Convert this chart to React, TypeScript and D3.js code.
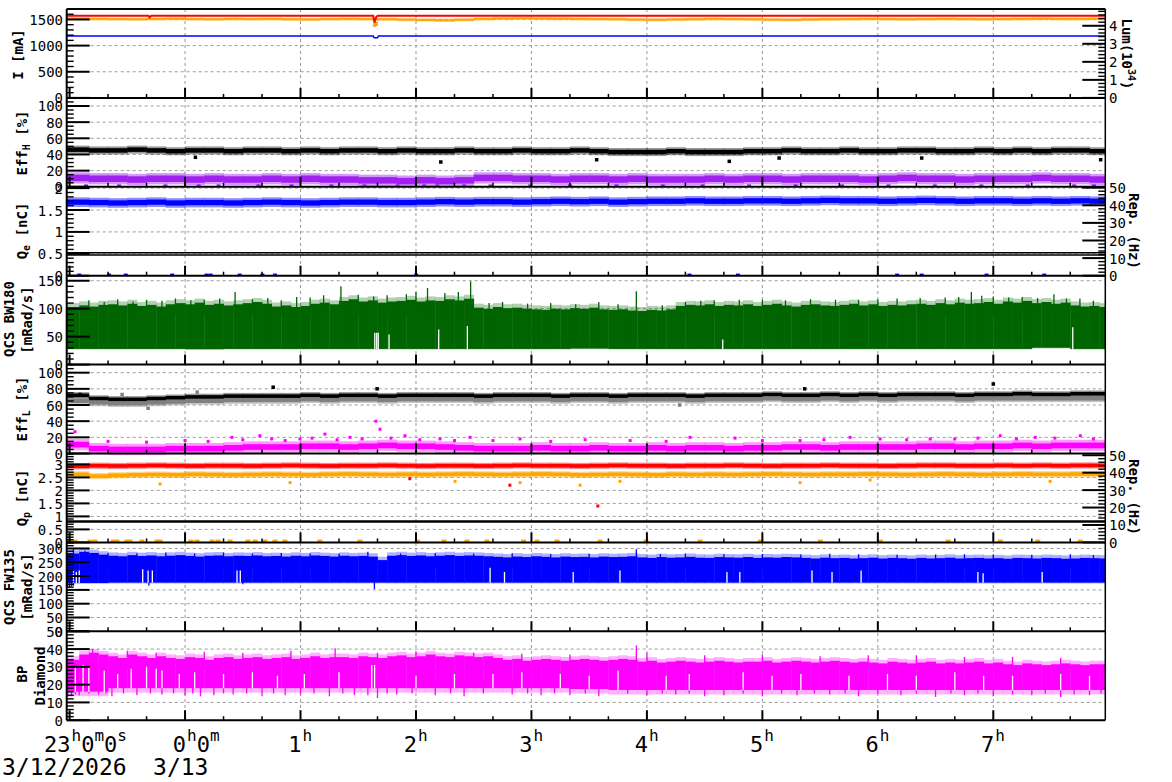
import React from "react";
import * as d3 from "d3";

// ---------------- time axis (minutes relative to 0:00 on 3/13) ----------------
const timeDomain: [number, number] = [-61.5, 478.2];
const hourTicks = [-60, 0, 60, 120, 180, 240, 300, 360, 420];
const hourLabels = ["23h0m0s", "0h0m", "1h", "2h", "3h", "4h", "5h", "6h", "7h"];
const minorTimeStep = 20;
const dateLabels = ["3/12/2026", "3/13"];
const binStart = -60;
const binSpan = 540;

// ---------------- tick labels ----------------
const iTicks = [0, 500, 1000, 1500];
const lumTicks = [0, 1, 2, 3, 4];
const effTicks = [0, 20, 40, 60, 80, 100];
const qeTicks = [0, 0.5, 1, 1.5, 2];
const repTicks = [0, 10, 20, 30, 40, 50];
const bwTicks = [0, 50, 100, 150];
const qpTicks = [0, 0.5, 1, 1.5, 2, 2.5, 3];
const fwTicks = [0, 50, 100, 150, 200, 250, 300];
const bpTicks = [0, 10, 20, 30, 40, 50];

// ---------------- panel 1: currents [mA] and luminosity ----------------
const herCurrent: [number, number][] = [[-61.5, 1182], [97.8, 1182], [98.3, 1150], [100, 1150], [100.5, 1182], [478.2, 1182]];
const lerCurrent: [number, number][] = [[-61.5, 1570], [-19, 1570], [-18.4, 1540], [-17.6, 1570], [97.8, 1570], [98.4, 1440], [99.4, 1555], [100.2, 1570], [478.2, 1570]];
const lumMean = [4.40, 4.38, 4.37, 4.36, 4.38, 4.39, 4.37, 4.36, 4.38, 4.37, 4.38, 4.36, 4.35, 4.37, 4.38, 4.37, 4.36, 4.34, 4.32, 4.30, 4.33, 4.38, 4.40, 4.41, 4.40, 4.39, 4.38, 4.37, 4.36, 4.34, 4.33, 4.35, 4.36, 4.38, 4.37, 4.36, 4.34, 4.33, 4.35, 4.36, 4.37, 4.38, 4.37, 4.36, 4.37, 4.38, 4.37, 4.36, 4.37, 4.38, 4.39, 4.38, 4.38, 4.39];
const lumOutliers: [number, number][] = [[98.5, 4.05], [99.5, 4.1]];

// ---------------- panel 2: Eff_H [%] ----------------
const effHBlack = [46, 45, 45, 46, 45, 44, 45, 45, 44, 45, 45, 44, 45, 44, 45, 45, 44, 45, 44, 44, 45, 44, 44, 45, 44, 44, 45, 44, 43, 43, 43, 44, 43, 43, 43, 44, 44, 45, 44, 44, 45, 44, 44, 45, 45, 44, 44, 45, 44, 45, 44, 45, 45, 44];
const effHPurple = [11, 10, 10, 9, 10, 10, 9, 10, 9, 9, 10, 9, 10, 9, 9, 8, 8, 7, 8, 7, 8, 11, 11, 10, 10, 9, 10, 10, 9, 10, 9, 9, 9, 10, 9, 10, 10, 9, 10, 10, 10, 9, 10, 11, 10, 10, 9, 10, 10, 10, 11, 10, 10, 9];
const effHBlackOutliers: [number, number][] = [[5.4, 36.5], [132.9, 30.7], [213.9, 33.5], [282.8, 31.5], [308.7, 35.6], [382.8, 35.6], [475.8, 33.5]];
const effHPurpleLow: number[] = [-51.5, -34.3, -10.2, 7.1, 17.4, 38.1, 55.3, 76, 93.2, 110.5, 124.3, 131.1, 145, 158.7, 179.4, 200.1, 224.2, 248.3, 269, 293.1, 317.3, 341.4, 365.5, 389.6, 413.8, 437.9, 462, 472.3];

// ---------------- panel 3: Q_e [nC] and rep rate ----------------
const qeBlue = [1.68, 1.67, 1.66, 1.67, 1.68, 1.66, 1.67, 1.67, 1.66, 1.67, 1.68, 1.67, 1.66, 1.67, 1.68, 1.68, 1.67, 1.67, 1.68, 1.69, 1.68, 1.69, 1.69, 1.68, 1.69, 1.70, 1.69, 1.70, 1.68, 1.69, 1.70, 1.70, 1.71, 1.70, 1.70, 1.71, 1.71, 1.70, 1.71, 1.72, 1.71, 1.71, 1.70, 1.71, 1.72, 1.71, 1.70, 1.71, 1.71, 1.70, 1.71, 1.70, 1.71, 1.70];
const qeZeroDots: number[] = [-55, -39.5, -30.8, -6.7, 11.2, 13.3, 28.4, 40.2, 46.7, 120.1, 262.1, 287.3, 370, 382.8, 416.5, 446.5];
const repE1: [number, number][] = [[-61.5, 13.0], [478.2, 13.0]];
const repE2: [number, number][] = [[-61.5, 11.8], [478.2, 11.8]];

// ---------------- panel 4: QCS BW180 [mRad/s] ----------------
const bw180Hi = [103, 106, 104, 107, 108, 106, 109, 105, 107, 104, 108, 110, 108, 111, 107, 109, 106, 108, 110, 112, 109, 104, 106, 103, 105, 109, 111, 108, 114, 117, 113, 115, 111, 113, 114, 116, 113, 115, 114, 117, 115, 118, 102, 100, 103, 101, 102, 100, 99, 98, 100, 99, 101, 100, 102, 99, 98, 99, 97, 96, 98, 97, 99, 105, 107, 106, 108, 105, 107, 106, 108, 105, 107, 109, 106, 104, 107, 108, 106, 105, 107, 109, 106, 108, 105, 107, 106, 108, 109, 107, 110, 108, 111, 109, 110, 112, 109, 113, 111, 114, 110, 112, 109, 111, 106, 104, 105, 103];
const bw180Lo = [28, 28, 28, 27.5, 28, 28, 28, 28, 28, 28, 28, 28, 28, 28.5, 28, 28, 28, 28, 28, 28, 28, 28, 28, 28, 28, 30, 28];
const bw180Spikes: [number, number][] = [[-50, 115], [-42, 112], [-35, 117], [-27, 113], [-20, 116], [-12, 114], [-5, 118], [3, 115], [10, 116], [18, 118], [26, 130], [35, 117], [43, 119], [50, 115], [58, 121], [65, 120], [72, 124], [81, 140], [90, 125], [98, 122], [105, 124], [115, 126], [120, 130], [126, 137], [135, 128], [142, 130], [148.4, 149], [158, 110], [165, 112], [178, 109], [190, 110], [203, 108], [215, 112], [225, 108], [234.5, 131], [248, 106], [260, 112], [268, 114], [275, 115], [288, 116], [300, 116], [312, 115], [325, 117], [338, 116], [350, 116], [360, 117], [370, 118], [382, 119], [395, 120], [402, 121], [408.6, 130], [414, 123], [420, 122], [428, 120], [435, 121], [443, 119], [451.5, 126], [458, 118], [465, 118], [472, 114]];
const bw180Gaps: [number, number][] = [[98.6, 57], [99.6, 57], [100.4, 57], [106, 54], [131.8, 63], [146.7, 69], [279.4, 45], [461.3, 67]];

// ---------------- panel 5: Eff_L [%] ----------------
const effLBlack = [72, 68, 67, 67, 68, 69, 70, 70, 71, 71, 71, 71, 72, 71, 72, 72, 71, 72, 72, 72, 72, 71, 72, 72, 72, 71, 72, 72, 71, 72, 72, 72, 71, 72, 72, 72, 73, 72, 72, 73, 72, 73, 72, 73, 73, 73, 72, 73, 73, 74, 73, 73, 74, 74];
const effLGray = [65, 63, 62, 62, 63, 64, 65, 65, 66, 66, 66, 66, 67, 66, 67, 67, 66, 67, 67, 67, 67, 66, 67, 67, 67, 66, 67, 67, 66, 67, 67, 67, 66, 67, 67, 67, 68, 67, 67, 68, 67, 68, 67, 68, 68, 68, 67, 68, 68, 68, 68, 68, 68, 68];
const effLMagenta = [11, 6, 5, 5, 5, 6, 6, 6, 7, 8, 8, 8, 9, 9, 8, 9, 10, 9, 9, 8, 7, 6, 6, 6, 7, 6, 6, 7, 6, 6, 7, 6, 7, 7, 6, 7, 7, 8, 8, 7, 8, 8, 8, 8, 9, 9, 8, 9, 9, 10, 9, 10, 10, 10];
const effLBlackOutliers: [number, number][] = [[-54.6, 73], [45.8, 82], [99.8, 80], [322, 80], [420, 86]];
const effLGrayOutliers: [number, number][] = [[-32.7, 73], [-19.2, 56], [6.3, 76], [257, 60]];
const effLMagentaOutliers: [number, number][] = [[-57.2, 27], [-40, 15], [-20, 14], [0, 16], [12, 15], [24.4, 20], [30, 17], [38.9, 22], [45, 18], [52, 16], [59.7, 18], [66, 19], [72.7, 24], [79, 17], [85.7, 20], [92, 18], [99.2, 40], [101.3, 30], [107, 19], [114.3, 22], [122, 17], [132.5, 18], [140, 16], [148.1, 20], [160, 16], [174.1, 18], [190, 15], [207.9, 17], [231.3, 16], [250, 15], [262.4, 20], [285.8, 19], [300, 16], [319.6, 16], [332, 17], [345.6, 20], [361.2, 18], [375, 17], [387.2, 18], [400, 18], [412, 19], [423.6, 22], [432, 18], [441.8, 20], [452, 19], [465.2, 22], [472, 18]];

// ---------------- panel 6: Q_p [nC] and rep rate ----------------
const qpRed = [2.93, 2.95, 2.94, 2.95, 2.96, 2.95, 2.94, 2.95, 2.95, 2.94, 2.95, 2.96, 2.95, 2.94, 2.95, 2.95, 2.96, 2.95, 2.94, 2.95, 2.95, 2.94, 2.95, 2.96, 2.95, 2.95, 2.94, 2.95, 2.96, 2.95, 2.95, 2.94, 2.95, 2.95, 2.96, 2.95, 2.94, 2.95, 2.95, 2.96, 2.95, 2.95, 2.94, 2.95, 2.96, 2.96, 2.95, 2.95, 2.96, 2.95, 2.96, 2.95, 2.96, 2.96];
const qpOrange = [2.62, 2.55, 2.58, 2.60, 2.61, 2.60, 2.62, 2.61, 2.60, 2.61, 2.62, 2.61, 2.60, 2.62, 2.63, 2.62, 2.61, 2.62, 2.61, 2.62, 2.63, 2.62, 2.61, 2.62, 2.63, 2.62, 2.60, 2.61, 2.62, 2.61, 2.60, 2.62, 2.61, 2.62, 2.61, 2.62, 2.63, 2.62, 2.61, 2.62, 2.62, 2.63, 2.62, 2.61, 2.62, 2.63, 2.62, 2.61, 2.62, 2.63, 2.62, 2.62, 2.63, 2.63];
const qpRedOutliers: [number, number][] = [[116.8, 2.45], [168.8, 2.2], [214.5, 1.4]];
const qpOrangeOutliers: [number, number][] = [[-13, 2.25], [54.6, 2.3], [140.3, 2.35], [174.1, 2.3], [205.3, 2.2], [226, 2.35], [319.6, 2.3], [356, 2.4], [449.5, 2.35]];
const qpZeroDots: number[] = [-59.8, -57.2, -49.4, -46.8, -37.4, -35.4, -30.2, -28.6, -22.4, -14.6, -13, 3.1, 6.2, 14, 17.1, 23.4, 32.7, 36.4, 41.5, 46.7, 51.9, 70.1, 90.9, 120.8, 134.6, 146.5, 156.9, 175.9, 182.9, 193.3, 215.7, 239.6, 267.7, 298.9, 330.1, 361.3, 396.6, 423.6, 443.1, 465.2];
const repP: [number, number][] = [[-61.5, 12], [478.2, 12]];

// ---------------- panel 7: QCS FW135 [mRad/s] ----------------
const fw135Hi = [282, 288, 284, 278, 274, 272, 276, 273, 275, 272, 274, 276, 273, 271, 274, 275, 272, 274, 273, 275, 272, 273, 271, 274, 272, 275, 273, 271, 274, 272, 273, 271, 258, 274, 276, 273, 275, 272, 274, 276, 273, 275, 274, 272, 270, 268, 271, 269, 272, 270, 268, 271, 269, 270, 268, 271, 269, 270, 272, 268, 266, 269, 267, 268, 270, 267, 266, 269, 268, 267, 269, 266, 268, 267, 269, 268, 266, 264, 267, 265, 266, 264, 265, 267, 264, 266, 265, 263, 266, 264, 265, 267, 264, 265, 266, 264, 265, 263, 266, 265, 264, 266, 265, 263, 264, 266, 265, 264];
const fw135Lo = [175, 176, 176, 176, 176, 176, 176, 176, 176, 176, 176, 176, 176, 176, 176, 176, 176, 176, 176, 176, 176, 176, 176, 176, 176, 176, 176];
const fw135Spikes: [number, number][] = [[-58, 298], [-52, 292], [-40, 284], [-25, 283], [-10, 285], [5, 282], [20, 285], [35, 281], [50, 284], [65, 282], [80, 281], [95, 288], [112, 282], [130, 284], [150, 281], [170, 283], [190, 280], [210, 281], [234.5, 297], [247, 280], [260, 282], [280, 279], [300, 280], [320, 278], [335, 281], [350, 279], [370, 277], [390, 278], [405, 279], [420, 278], [440, 277], [460, 279], [472, 276]];
const fw135Dips: [number, number][] = [[-61, 160], [-60, 158], [-59, 162], [-58, 165], [-18.8, 165], [30, 170], [98.4, 153]];
const fw135Gaps: [number, number][] = [[-58, 220], [-56.5, 215], [-55, 220], [-22, 225], [-19.2, 220], [-17, 220], [27, 220], [28.7, 220], [158.5, 230], [166, 215], [201.7, 215], [226, 220], [281.6, 215], [288.3, 215], [325.8, 220], [336.2, 215], [351.3, 220], [412, 215], [414.7, 210], [445.4, 215]];

// ---------------- panel 8: BP Diamond ----------------
const bpHi = [34, 37, 38, 37, 36, 35, 37, 36, 35, 36, 35, 34.5, 35.5, 35, 34, 35, 35.5, 34.5, 35, 35.5, 34.5, 35, 35.5, 34.5, 35, 36, 35, 35.5, 35.5, 35, 36, 35.5, 35, 36, 36.5, 35.5, 36, 37, 36, 35.5, 36.5, 36, 35.5, 36, 35, 34, 34.5, 33.5, 34, 34.5, 34, 33.5, 34, 34.5, 34, 33.5, 34, 34.5, 34, 33, 33.5, 32.5, 33, 33.5, 33, 32.5, 33, 33.5, 33, 32.5, 33, 33, 33.5, 32.5, 33, 33.5, 33, 32.5, 33, 33.5, 33, 32.5, 33, 32.5, 32, 33, 32.5, 32, 32.5, 33, 32, 32.5, 32, 32.5, 33, 32, 32.5, 31.5, 31, 32, 31.5, 31, 31.5, 32, 31.5, 31, 31.5, 31.5];
const bpLo = [16, 18, 18, 18, 18, 18, 18, 18, 18, 18, 18, 18, 18, 17.5, 17, 17, 17, 17, 17, 17, 17, 17, 17, 17, 17, 17, 17];
const bpSpikes: [number, number][] = [[-48, 40], [-30, 39], [-15, 38], [10, 38.5], [30, 38], [55, 39], [78, 40.5], [100, 38], [120, 38.5], [150, 38], [175, 37.5], [200, 37], [234.5, 42], [240, 38], [270, 36.5], [300, 37], [330, 36], [355, 36.5], [380, 36.5], [405, 35.5], [430, 35.5], [455, 35]];
const bpDips: [number, number][] = [[-61, 13], [-59, 13.5], [-57, 14.5], [-55, 14], [-50, 15], [-45, 14.5], [-41, 15], [-38, 13.5], [-32, 15], [-25, 14], [-18, 15], [-12, 14.5], [-6, 15], [0, 14], [4, 15], [8, 13.5], [15, 14], [20, 15], [25, 14.5], [32, 15], [40, 13.5], [46, 15], [52, 14], [60, 14.5], [67, 15], [75, 13.5], [82, 15], [88, 14], [95, 14], [100, 12.5], [105, 15], [110, 14.5], [118, 15], [130, 14], [138, 15], [145, 13.5], [155, 15], [170, 14.5], [178, 15], [185, 14], [192, 15], [200, 14], [208, 15], [215, 13.5], [230, 15], [240, 14], [248, 15], [255, 14.5], [262, 15], [270, 13.5], [280, 14], [290, 15], [300, 13.5], [310, 15], [318, 14], [327, 15], [335, 14.5], [343, 15], [350, 13.5], [360, 15], [372, 14], [380, 15], [390, 13], [398, 15], [405, 14], [412, 15], [420, 13.5], [430, 14.5], [440, 14], [447, 15], [455, 13], [462, 14.5], [470, 14], [476, 15]];
const bpGaps: [number, number][] = [[-57, 30], [-53, 31], [-50, 30], [-42, 28], [-35, 26], [-28, 29], [-20, 30], [-15, 29], [-12, 28], [-3, 26], [5, 27], [20, 26], [35, 27], [48, 25], [62, 26], [80, 27], [97, 31], [98.5, 31], [120, 25], [140, 26], [160, 26], [175, 27], [195, 26], [210, 25], [225, 28], [250, 25], [262, 26], [290, 27], [305, 25], [320, 26], [345, 25], [365, 26], [380, 25], [400, 27], [415, 25], [430, 25], [455, 26], [470, 25]];

// ---------------- layout ----------------
const X0 = 66.7, X1 = 1105.3, TOP = 9, PH = 88.9;
const MONO = "'DejaVu Sans Mono', monospace";
const GRID = "#9a9a9a";

const xS = d3.scaleLinear().domain(timeDomain).range([X0, X1]);
const pTop = (i: number) => TOP + i * PH;
const yOf = (i: number, dom: number[]) => d3.scaleLinear().domain(dom).range([pTop(i) + PH, pTop(i)]);

type Axis = { dom: number[]; labels: number[]; minor: number };
type Panel = Axis & { right?: Axis };

const PANELS: Panel[] = [
  { dom: [0, 1700], labels: iTicks, minor: 100, right: { dom: [0, 4.93], labels: lumTicks, minor: 0.2 } },
  { dom: [0, 110], labels: effTicks, minor: 5 },
  { dom: [0, 2.03], labels: qeTicks, minor: 0.1, right: { dom: [0, 50.5], labels: repTicks, minor: 2 } },
  { dom: [0, 159], labels: bwTicks, minor: 10 },
  { dom: [0, 110], labels: effTicks, minor: 5 },
  { dom: [0, 3.42], labels: qpTicks, minor: 0.1, right: { dom: [0, 51], labels: repTicks, minor: 2 } },
  { dom: [0, 322], labels: fwTicks, minor: 10 },
  { dom: [0, 50], labels: bpTicks, minor: 2 },
];

function binRange(n: number, i: number): [number, number] {
  const w = binSpan / n;
  let a = binStart + i * w;
  let b = a + w;
  if (i === 0) a = timeDomain[0];
  b = Math.min(b, timeDomain[1]);
  return [a, b];
}
function binIdx(n: number, t: number) {
  return Math.max(0, Math.min(n - 1, Math.floor((t - binStart) / (binSpan / n))));
}

function band(key: string, vals: number[], spread: number, y: d3.ScaleLinear<number, number>, color: string, opacity = 1) {
  return vals.map((v, i) => {
    const [a, b] = binRange(vals.length, i);
    const y1 = y(v + spread), y2 = y(v - spread);
    return <rect key={key + i} x={xS(a)} width={xS(b) - xS(a) + 0.4} y={y1} height={y2 - y1} fill={color} opacity={opacity} />;
  });
}

function rangeBars(key: string, hi: number[], lo: number[], y: d3.ScaleLinear<number, number>, color: string, fuzzTop = 0, fuzzBot = 0) {
  return hi.map((h, i) => {
    const [a, b] = binRange(hi.length, i);
    const l = lo[Math.floor((i * lo.length) / hi.length)];
    const xa = xS(a), w = xS(b) - xS(a) + 0.4;
    return (
      <g key={key + i}>
        {fuzzTop > 0 && <rect x={xa} width={w} y={y(h + fuzzTop)} height={y(h) - y(h + fuzzTop)} fill={color} opacity={0.3} />}
        {fuzzBot > 0 && <rect x={xa} width={w} y={y(l)} height={y(l - fuzzBot) - y(l)} fill={color} opacity={0.3} />}
        <rect x={xa} width={w} y={y(h)} height={y(l) - y(h)} fill={color} />
      </g>
    );
  });
}

function vlines(key: string, pts: [number, number][], base: (t: number) => number, y: d3.ScaleLinear<number, number>, color: string, w = 1.2) {
  return pts.map(([t, v], i) => (
    <line key={key + i} x1={xS(t)} x2={xS(t)} y1={y(base(t))} y2={y(v)} stroke={color} strokeWidth={w} />
  ));
}

function dots(key: string, pts: [number, number][], y: d3.ScaleLinear<number, number>, color: string, w = 3.5, h = 3.5) {
  return pts.map(([t, v], i) => <rect key={key + i} x={xS(t) - w / 2} y={y(v) - h / 2} width={w} height={h} fill={color} />);
}

function linePath(pts: [number, number][], y: d3.ScaleLinear<number, number>) {
  return d3.line<[number, number]>().x((d) => xS(d[0])).y((d) => y(d[1]))(pts) || "";
}

function leftTitle(key: string, cx: number, cy: number, content: React.ReactNode, rot = -90) {
  return (
    <text key={key} transform={`translate(${cx},${cy}) rotate(${rot})`} textAnchor="middle" dominantBaseline="central" fontFamily={MONO} fontWeight="bold" fontSize={14}>
      {content}
    </text>
  );
}

function axisTicks(key: string, ax: Axis, i: number, side: "left" | "right") {
  const y = yOf(i, ax.dom);
  const out: React.ReactNode[] = [];
  const sgn = side === "left" ? 1 : -1;
  const x0 = side === "left" ? X0 : X1;
  const minors = d3.range(0, ax.dom[1] + 1e-9, ax.minor).filter((v) => !ax.labels.some((l) => Math.abs(l - v) < ax.minor * 0.05));
  minors.forEach((v, k) => out.push(<line key={key + "m" + k} x1={x0} x2={x0 + sgn * 7} y1={y(v)} y2={y(v)} stroke="#000" strokeWidth={1.4} />));
  ax.labels.forEach((v, k) => {
    out.push(<line key={key + "M" + k} x1={x0} x2={x0 + sgn * 23} y1={y(v)} y2={y(v)} stroke="#000" strokeWidth={2} />);
    out.push(
      <text key={key + "t" + k} x={side === "left" ? 63 : 1109} y={y(v) + 0.5} textAnchor={side === "left" ? "end" : "start"} dominantBaseline="central" fontFamily={MONO} fontSize={14} fill="#000">
        {String(v)}
      </text>
    );
  });
  return out;
}

export default function App() {
  const y = PANELS.map((p, i) => yOf(i, p.dom));
  const yR = PANELS.map((p, i) => (p.right ? yOf(i, p.right.dom) : null));
  const bottom = pTop(8);

  // grids
  const grid: React.ReactNode[] = [];
  PANELS.forEach((p, i) => {
    p.labels.forEach((v, k) => {
      const yy = y[i](v);
      if (v > 0 && yy > pTop(i) + 1) grid.push(<line key={`g${i}-${k}`} x1={X0} x2={X1} y1={yy} y2={yy} stroke={GRID} strokeWidth={1} strokeDasharray="3,3" />);
    });
  });
  hourTicks.filter((t) => t >= 0).forEach((t, k) => grid.push(<line key={`vg${k}`} x1={xS(t)} x2={xS(t)} y1={TOP} y2={bottom} stroke={GRID} strokeWidth={1} strokeDasharray="3,3" />));

  // series
  const s: React.ReactNode[] = [];
  // panel 1
  s.push(...band("lumF", lumMean, 0.09, yR[0]!, "#ffa500", 0.45));
  s.push(...band("lum", lumMean, 0.05, yR[0]!, "#ffa500"));
  s.push(...dots("lumO", lumOutliers, yR[0]!, "#ffa500", 3, 4));
  s.push(<path key="ler" d={linePath(lerCurrent, y[0])} fill="none" stroke="#ff0000" strokeWidth={2} />);
  s.push(<path key="her" d={linePath(herCurrent, y[0])} fill="none" stroke="#0000ff" strokeWidth={1.5} />);
  // panel 2
  s.push(...band("ehbF", effHBlack, 5, y[1], "#000", 0.4));
  s.push(...band("ehb", effHBlack, 2.8, y[1], "#000"));
  s.push(...dots("ehbO", effHBlackOutliers, y[1], "#000"));
  s.push(...band("ehpF", effHPurple, 7, y[1], "#a020f0", 0.45));
  s.push(...band("ehp", effHPurple, 4, y[1], "#a020f0"));
  s.push(...dots("ehpL", effHPurpleLow.map((t) => [t, 1.5] as [number, number]), y[1], "#a020f0", 4, 2.5));
  // panel 3
  s.push(...band("qeF", qeBlue, 0.11, y[2], "#0000ff", 0.45));
  s.push(...band("qe", qeBlue, 0.06, y[2], "#0000ff"));
  s.push(...dots("qeZ", qeZeroDots.map((t) => [t, 0.02] as [number, number]), y[2], "#0000ff", 4, 2.5));
  s.push(<path key="repE1" d={linePath(repE1, yR[2]!)} fill="none" stroke="#000" strokeWidth={1.6} />);
  s.push(<path key="repE2" d={linePath(repE2, yR[2]!)} fill="none" stroke="#000" strokeWidth={1.6} />);
  // panel 4
  s.push(...rangeBars("bw", bw180Hi, bw180Lo, y[3], "#006400", 7, 1));
  s.push(...vlines("bwS", bw180Spikes, () => 90, y[3], "#006400", 1.3));
  s.push(...vlines("bwG", bw180Gaps, (t) => bw180Lo[binIdx(bw180Lo.length, t)] - 0.5, y[3], "#fff", 1.3));
  // panel 5
  s.push(...band("elgF", effLGray, 4.5, y[4], "#808080", 0.45));
  s.push(...band("elbF", effLBlack, 4, y[4], "#000", 0.4));
  s.push(...band("elb", effLBlack, 2.2, y[4], "#000"));
  s.push(...band("elg", effLGray, 2.5, y[4], "#808080"));
  s.push(...dots("elbO", effLBlackOutliers, y[4], "#000"));
  s.push(...dots("elgO", effLGrayOutliers, y[4], "#808080"));
  s.push(...band("elmF", effLMagenta, 7, y[4], "#ff00ff", 0.4));
  s.push(...band("elm", effLMagenta, 3.5, y[4], "#ff00ff"));
  s.push(...dots("elmO", effLMagentaOutliers, y[4], "#ff00ff", 3, 3));
  // panel 6
  s.push(...band("qprF", qpRed, 0.12, y[5], "#ff0000", 0.45));
  s.push(...band("qpr", qpRed, 0.07, y[5], "#ff0000"));
  s.push(...band("qpoF", qpOrange, 0.12, y[5], "#ffa500", 0.45));
  s.push(...band("qpo", qpOrange, 0.07, y[5], "#ffa500"));
  s.push(...dots("qprO", qpRedOutliers, y[5], "#ff0000", 3, 3));
  s.push(...dots("qpoO", qpOrangeOutliers, y[5], "#ffa500", 3, 3));
  s.push(...dots("qpZ", qpZeroDots.map((t) => [t, 0.06] as [number, number]), y[5], "#ffa500", 5, 2.5));
  s.push(<path key="repP" d={linePath(repP, yR[5]!)} fill="none" stroke="#000" strokeWidth={2.5} />);
  // panel 7
  s.push(...rangeBars("fw", fw135Hi, fw135Lo, y[6], "#0000ff", 12, 3));
  s.push(...vlines("fwS", fw135Spikes, () => 230, y[6], "#0000ff", 1.3));
  s.push(...vlines("fwD", fw135Dips, () => 200, y[6], "#0000ff", 1.3));
  s.push(...vlines("fwG", fw135Gaps, (t) => fw135Lo[binIdx(fw135Lo.length, t)] - 0.5, y[6], "#fff", 1.3));
  // panel 8
  s.push(...rangeBars("bp", bpHi, bpLo, y[7], "#ff00ff", 2, 2.5));
  s.push(...vlines("bpS", bpSpikes, () => 30, y[7], "#ff00ff", 1.3));
  s.push(...vlines("bpD", bpDips, () => 22, y[7], "#ff00ff", 1.3));
  s.push(...vlines("bpG", bpGaps, (t) => bpLo[binIdx(bpLo.length, t)] - 0.1, y[7], "#fff", 1.3));

  // axes
  const ax: React.ReactNode[] = [];
  PANELS.forEach((p, i) => {
    ax.push(...axisTicks(`L${i}`, p, i, "left"));
    if (p.right) ax.push(...axisTicks(`R${i}`, p.right, i, "right"));
    const yb = pTop(i) + PH;
    d3.range(-60, timeDomain[1], minorTimeStep).forEach((t, k) => {
      if (t < timeDomain[0]) return;
      const major = t % 60 === 0;
      ax.push(<line key={`xt${i}-${k}`} x1={xS(t)} x2={xS(t)} y1={yb} y2={yb - (major ? 10 : 4)} stroke="#000" strokeWidth={major ? 2 : 1.5} />);
    });
  });
  for (let k = 0; k <= 8; k++) ax.push(<line key={`hb${k}`} x1={X0} x2={X1} y1={pTop(k)} y2={pTop(k)} stroke="#000" strokeWidth={2} />);
  ax.push(<line key="la" x1={X0} x2={X0} y1={TOP} y2={bottom} stroke="#000" strokeWidth={2} />);
  ax.push(<line key="ra" x1={X1} x2={X1} y1={TOP} y2={bottom} stroke="#000" strokeWidth={1.5} />);

  // titles
  const sub = (t: string) => [<tspan key="a" dy={4} fontSize={10}>{t}</tspan>, <tspan key="b" dy={-4}>{" "}</tspan>];
  const titles = [
    leftTitle("t0", 18, 54.5, "I [mA]"),
    leftTitle("t1", 22, 143, <>Eff{sub("H")}[%]</>),
    leftTitle("t2", 22, 231, <>Q{sub("e")}[nC]</>),
    leftTitle("t3a", 9, 319, "QCS BW180"),
    leftTitle("t3b", 27, 320, "[mRad/s]"),
    leftTitle("t4", 22, 409, <>Eff{sub("L")}[%]</>),
    leftTitle("t5", 22, 498, <>Q{sub("p")}[nC]</>),
    leftTitle("t6a", 9, 587, "QCS FW135"),
    leftTitle("t6b", 27, 587, "[mRad/s]"),
    leftTitle("t7a", 22, 674, "BP"),
    leftTitle("t7b", 40, 676, "Diamond"),
    leftTitle("r0", 1127, 54, <>Lum(10<tspan dy={-5} fontSize={10}>34</tspan><tspan dy={5}>)</tspan></>, 90),
    leftTitle("r2", 1134, 231, "Rep. (Hz)", 90),
    leftTitle("r5", 1134, 497, "Rep. (Hz)", 90),
  ];

  // x labels
  const xl = hourTicks.map((t, k) => {
    const lab = hourLabels[k];
    const m = lab.match(/^(\d+)(.*)$/)!;
    const parts = m[2].match(/[a-z]|\d+/g) || [];
    const xt = xS(t) + 1;
    return (
      <g key={`xl${k}`} fontFamily={MONO} fill="#000">
        <text x={xt} y={752} textAnchor="end" fontSize={22}>{m[1]}</text>
        <text x={xt + 1} y={752} fontSize={22}>
          {parts.map((p, j) => (/[a-z]/.test(p) ? <tspan key={j} y={741} fontSize={16}>{p}</tspan> : <tspan key={j} y={752} fontSize={22}>{p}</tspan>))}
        </text>
      </g>
    );
  });

  return (
    <svg width={1172} height={782} style={{ position: "absolute", left: 0, top: 0, background: "#fff", display: "block" }}>
      <defs>
        <clipPath id="plotClip">
          <rect x={X0} y={TOP} width={X1 - X0} height={bottom - TOP} />
        </clipPath>
      </defs>
      <rect x={0} y={0} width={1172} height={782} fill="#fff" />
      <g>{grid}</g>
      <g clipPath="url(#plotClip)">{s}</g>
      <g>{ax}</g>
      <g>{titles}</g>
      <g>{xl}</g>
      <text x={2} y={775} fontFamily={MONO} fontSize={23}>{dateLabels[0]}</text>
      <text x={xS(0) - 32} y={775} fontFamily={MONO} fontSize={23}>{dateLabels[1]}</text>
    </svg>
  );
}
